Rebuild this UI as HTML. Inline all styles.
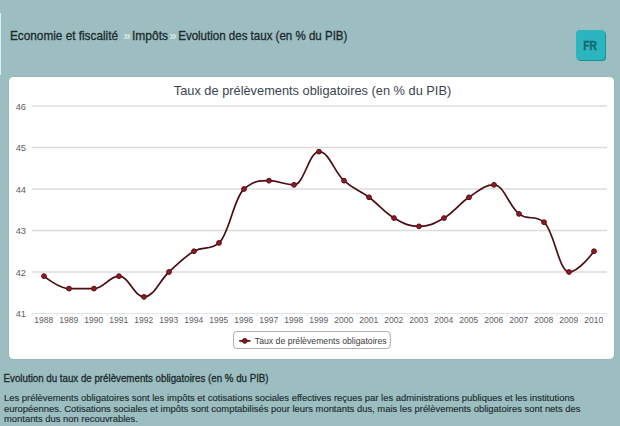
<!DOCTYPE html>
<html><head><meta charset="utf-8"><style>
html,body{margin:0;padding:0;}
body{width:620px;height:426px;overflow:hidden;background:#9dbec0;position:relative;font-family:"Liberation Sans",sans-serif;}
.strip{position:absolute;left:0;top:13px;width:1px;height:62px;background:#d4f0f0;}
.fr{position:absolute;left:576px;top:30px;width:29px;height:29.6px;border-radius:4px;background:#2bb5bf;box-shadow:1px 1px 0 #1f8d96;}
.panel{position:absolute;left:9px;top:77px;width:604.8px;height:281.9px;background:#fff;border-radius:4.5px;box-shadow:0 0 0 1px #97b8ba;}
svg{position:absolute;left:0;top:0;}
</style></head><body>
<div class="strip"></div>
<div class="fr"></div>
<div class="panel"></div>
<svg width="620" height="426" viewBox="0 0 620 426" font-family="Liberation Sans">
<text x="312.5" y="95.4" text-anchor="middle" font-size="12.8" fill="#3a4550">Taux de prélèvements obligatoires (en % du PIB)</text>
<g stroke="#dcdcdc" stroke-width="1.4">
<line x1="32.0" x2="607.0" y1="106.00" y2="106.00"/>
<line x1="32.0" x2="607.0" y1="147.50" y2="147.50"/>
<line x1="32.0" x2="607.0" y1="189.00" y2="189.00"/>
<line x1="32.0" x2="607.0" y1="230.50" y2="230.50"/>
<line x1="32.0" x2="607.0" y1="272.00" y2="272.00"/>
</g>
<line x1="32.0" x2="607.0" y1="313.5" y2="313.5" stroke="#dfe5ea" stroke-width="1.2"/>
<g stroke="#e4e8ee" stroke-width="1">
<line x1="32.0" x2="32.0" y1="313.5" y2="316.5"/>
<line x1="57.0" x2="57.0" y1="313.5" y2="316.5"/>
<line x1="82.0" x2="82.0" y1="313.5" y2="316.5"/>
<line x1="107.0" x2="107.0" y1="313.5" y2="316.5"/>
<line x1="132.0" x2="132.0" y1="313.5" y2="316.5"/>
<line x1="157.0" x2="157.0" y1="313.5" y2="316.5"/>
<line x1="182.0" x2="182.0" y1="313.5" y2="316.5"/>
<line x1="207.0" x2="207.0" y1="313.5" y2="316.5"/>
<line x1="232.0" x2="232.0" y1="313.5" y2="316.5"/>
<line x1="257.0" x2="257.0" y1="313.5" y2="316.5"/>
<line x1="282.0" x2="282.0" y1="313.5" y2="316.5"/>
<line x1="307.0" x2="307.0" y1="313.5" y2="316.5"/>
<line x1="332.0" x2="332.0" y1="313.5" y2="316.5"/>
<line x1="357.0" x2="357.0" y1="313.5" y2="316.5"/>
<line x1="382.0" x2="382.0" y1="313.5" y2="316.5"/>
<line x1="407.0" x2="407.0" y1="313.5" y2="316.5"/>
<line x1="432.0" x2="432.0" y1="313.5" y2="316.5"/>
<line x1="457.0" x2="457.0" y1="313.5" y2="316.5"/>
<line x1="482.0" x2="482.0" y1="313.5" y2="316.5"/>
<line x1="507.0" x2="507.0" y1="313.5" y2="316.5"/>
<line x1="532.0" x2="532.0" y1="313.5" y2="316.5"/>
<line x1="557.0" x2="557.0" y1="313.5" y2="316.5"/>
<line x1="582.0" x2="582.0" y1="313.5" y2="316.5"/>
<line x1="607.0" x2="607.0" y1="313.5" y2="316.5"/>
</g>
<g font-size="9.3" fill="#606060">
<text x="26" y="109.80" text-anchor="end">46</text>
<text x="26" y="151.30" text-anchor="end">45</text>
<text x="26" y="192.80" text-anchor="end">44</text>
<text x="26" y="234.30" text-anchor="end">43</text>
<text x="26" y="275.80" text-anchor="end">42</text>
<text x="26" y="317.30" text-anchor="end">41</text>
</g>
<g font-size="8.5" fill="#606060" text-anchor="middle">
<text x="43.70" y="323.2">1988</text>
<text x="68.70" y="323.2">1989</text>
<text x="93.70" y="323.2">1990</text>
<text x="118.70" y="323.2">1991</text>
<text x="143.70" y="323.2">1992</text>
<text x="168.70" y="323.2">1993</text>
<text x="193.70" y="323.2">1994</text>
<text x="218.70" y="323.2">1995</text>
<text x="243.70" y="323.2">1996</text>
<text x="268.70" y="323.2">1997</text>
<text x="293.70" y="323.2">1998</text>
<text x="318.70" y="323.2">1999</text>
<text x="343.70" y="323.2">2000</text>
<text x="368.70" y="323.2">2001</text>
<text x="393.70" y="323.2">2002</text>
<text x="418.70" y="323.2">2003</text>
<text x="443.70" y="323.2">2004</text>
<text x="468.70" y="323.2">2005</text>
<text x="493.70" y="323.2">2006</text>
<text x="518.70" y="323.2">2007</text>
<text x="543.70" y="323.2">2008</text>
<text x="568.70" y="323.2">2009</text>
<text x="593.70" y="323.2">2010</text>
</g>
<path d="M44.00 276.15 C44.00 276.15 59.00 288.60 69.00 288.60 C79.00 288.60 84.00 288.60 94.00 288.60 C104.00 288.60 109.00 276.15 119.00 276.15 C129.00 276.15 134.00 296.90 144.00 296.90 C154.00 296.90 159.00 281.13 169.00 272.00 C179.00 262.87 184.00 257.06 194.00 251.25 C204.00 245.44 209.00 251.25 219.00 242.95 C229.00 234.65 234.00 197.30 244.00 189.00 C254.00 180.70 259.00 180.70 269.00 180.70 C279.00 180.70 284.00 184.85 294.00 184.85 C304.00 184.85 309.00 151.65 319.00 151.65 C329.00 151.65 334.00 171.57 344.00 180.70 C354.00 189.83 359.00 189.83 369.00 197.30 C379.00 204.77 384.00 212.24 394.00 218.05 C404.00 223.86 409.00 226.35 419.00 226.35 C429.00 226.35 434.00 223.86 444.00 218.05 C454.00 212.24 459.00 203.94 469.00 197.30 C479.00 190.66 484.00 184.85 494.00 184.85 C504.00 184.85 509.00 206.43 519.00 213.90 C529.00 221.37 534.00 213.90 544.00 222.20 C554.00 230.50 559.00 272.00 569.00 272.00 C579.00 272.00 594.00 251.25 594.00 251.25" fill="none" stroke="#4e0d14" stroke-width="1.7" stroke-linejoin="round" stroke-linecap="round"/>
<g fill="#961a22" stroke="#4e0d14" stroke-width="1">
<circle cx="44.00" cy="276.15" r="2.4"/>
<circle cx="69.00" cy="288.60" r="2.4"/>
<circle cx="94.00" cy="288.60" r="2.4"/>
<circle cx="119.00" cy="276.15" r="2.4"/>
<circle cx="144.00" cy="296.90" r="2.4"/>
<circle cx="169.00" cy="272.00" r="2.4"/>
<circle cx="194.00" cy="251.25" r="2.4"/>
<circle cx="219.00" cy="242.95" r="2.4"/>
<circle cx="244.00" cy="189.00" r="2.4"/>
<circle cx="269.00" cy="180.70" r="2.4"/>
<circle cx="294.00" cy="184.85" r="2.4"/>
<circle cx="319.00" cy="151.65" r="2.4"/>
<circle cx="344.00" cy="180.70" r="2.4"/>
<circle cx="369.00" cy="197.30" r="2.4"/>
<circle cx="394.00" cy="218.05" r="2.4"/>
<circle cx="419.00" cy="226.35" r="2.4"/>
<circle cx="444.00" cy="218.05" r="2.4"/>
<circle cx="469.00" cy="197.30" r="2.4"/>
<circle cx="494.00" cy="184.85" r="2.4"/>
<circle cx="519.00" cy="213.90" r="2.4"/>
<circle cx="544.00" cy="222.20" r="2.4"/>
<circle cx="569.00" cy="272.00" r="2.4"/>
<circle cx="594.00" cy="251.25" r="2.4"/>
</g>
<rect x="233.5" y="331.5" width="156.8" height="17" rx="3.5" fill="#fff" stroke="#b0b0b0" stroke-width="1"/>
<line x1="239.2" x2="250.5" y1="340.9" y2="340.9" stroke="#4e0d14" stroke-width="1.7"/>
<circle cx="244.8" cy="340.9" r="2.4" fill="#961a22" stroke="#4e0d14" stroke-width="1"/>
<text x="254.8" y="343.8" font-size="8.7" fill="#3c3c3c">Taux de prélèvements obligatoires</text>
</svg>
<svg width="620" height="426" viewBox="0 0 620 426" font-family="Liberation Sans">
<g font-size="13" fill="#1c2a2e" stroke="#1c2a2e" stroke-width="0.32">
<text x="10" y="40.0" textLength="108" lengthAdjust="spacingAndGlyphs">Economie et fiscalité</text>
<text x="132" y="40.0" textLength="36" lengthAdjust="spacingAndGlyphs">Impôts</text>
<text x="178.2" y="40.0" textLength="169.2" lengthAdjust="spacingAndGlyphs">Evolution des taux (en % du PIB)</text>
</g>
<text x="583.2" y="49.8" font-size="12.4" font-weight="bold" fill="#16666f" stroke="#16666f" stroke-width="0.3" textLength="13.8" lengthAdjust="spacingAndGlyphs">FR</text>
<g font-size="12.8" fill="#e8f4f4">
<text x="123.6" y="40.0">»</text>
<text x="169.6" y="40.0">»</text>
</g>
<g font-size="10.4" fill="#1c2a2e" stroke="#1c2a2e" stroke-width="0.3">
<text x="3.6" y="382.2" textLength="265" lengthAdjust="spacingAndGlyphs">Evolution du taux de prélèvements obligatoires (en % du PIB)</text>
</g>
<g font-size="8.8" fill="#1c2e33" stroke="#1c2e33" stroke-width="0.15">
<text x="4" y="400.5" textLength="570.4" lengthAdjust="spacingAndGlyphs">Les prélèvements obligatoires sont les impôts et cotisations sociales effectives reçues par les administrations publiques et les institutions</text>
<text x="4" y="411.5" textLength="576.5" lengthAdjust="spacingAndGlyphs">européennes. Cotisations sociales et impôts sont comptabilisés pour leurs montants dus, mais les prélèvements obligatoires sont nets des</text>
<text x="4" y="422.4" textLength="133.8" lengthAdjust="spacingAndGlyphs">montants dus non recouvrables.</text>
</g>
</svg>
</body></html>
